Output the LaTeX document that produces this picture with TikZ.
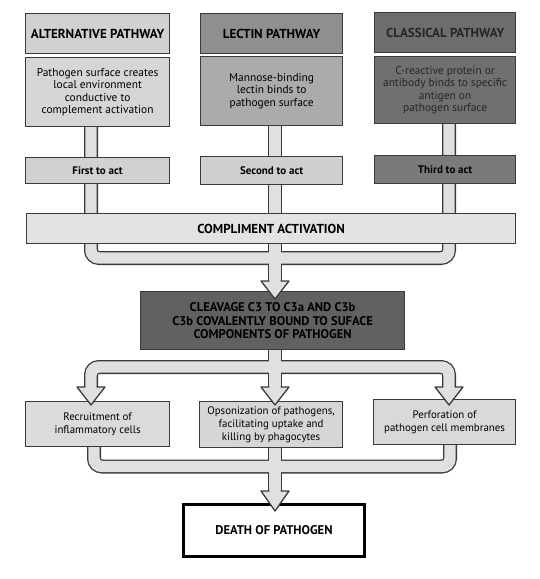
\documentclass[tikz,border=0pt]{standalone}
\usepackage{fontspec}
\setmainfont{PT Sans}
\usetikzlibrary{calc}
\begin{document}
\pgfdeclarelayer{bg}
\pgfsetlayers{bg,main}
\definecolor{pipefill}{HTML}{E0E0E0}
\definecolor{edge}{HTML}{3A3A3A}
\newcommand\blockhead[3]{%
  \fill[pipefill] ($(#1)+(-#3,0)$) -- ($(#1)+(#3,0)$) -- ($(#1)+(0,#2)$) -- cycle;
  \draw[headline] ($(#1)+(-5.7,0)$) -- ($(#1)+(-#3,0)$) -- ($(#1)+(0,#2)$) -- ($(#1)+(#3,0)$) -- ($(#1)+(5.7,0)$);}
\begin{tikzpicture}[x=1pt,y=-1pt,
  box/.style={draw=edge, line width=1.2pt, anchor=north west, inner sep=0pt, align=center, text=black},
  hdr/.style={box, font=\fontsize{13}{15}\selectfont\bfseries},
  desc/.style={box, font=\fontsize{11.4}{12.3}\selectfont},
  act/.style={box, font=\fontsize{11}{12}\selectfont\bfseries},
  pipeo/.style={line width=14pt, draw=edge, rounded corners=8pt},
  pipei/.style={line width=11.4pt, draw=pipefill, rounded corners=8pt},
  headline/.style={draw=edge, line width=1.3pt, line join=round},
]
\useasboundingbox (0,0) rectangle (539,579);
% top row
\node[hdr, fill=black!18, minimum width=144pt, minimum height=40pt] (altH) at (25,13) {ALTERNATIVE PATHWAY};
\node[desc, fill=black!16, minimum width=144pt, minimum height=69pt] (altD) at (25,57) {Pathogen surface creates\\local environment\\conductive to\\complement activation};
\node[act, fill=black!18, minimum width=144pt, minimum height=26pt] (altF) at (25,157) {First to act};
\node[hdr, fill=black!44, minimum width=142pt, minimum height=40pt] (lecH) at (200,13) {LECTIN PATHWAY};
\node[desc, fill=black!33, minimum width=142pt, minimum height=69pt] (lecD) at (200,56) {Mannose-binding\\lectin binds to\\pathogen surface};
\node[act, fill=black!19, minimum width=142pt, minimum height=28pt] (lecF) at (200,156) {Second to act};
\node[hdr, fill=black!57, minimum width=141pt, minimum height=40pt, text=black!85] (claH) at (374,12) {CLASSICAL PATHWAY};
\node[desc, fill=black!56, minimum width=141pt, minimum height=67pt, text=black!85] (claD) at (374,56) {C-reactive protein or\\antibody binds to specific\\antigen on\\pathogen surface};
\node[act, fill=black!52, minimum width=141pt, minimum height=28pt] (claF) at (374,155) {Third to act};
% middle
\node[box, fill=black!11, minimum width=489pt, minimum height=30pt, font=\fontsize{13}{15}\selectfont\bfseries] (comp) at (26,213) {COMPLIMENT ACTIVATION};
\node[box, fill=black!62, minimum width=264pt, minimum height=58pt, font=\fontsize{12.6}{13.2}\selectfont\bfseries] (cleav) at (140,291) {CLEAVAGE C3 TO C3a AND C3b\\C3b COVALENTLY BOUND TO SUFACE\\COMPONENTS OF PATHOGEN};
% bottom row
\node[desc, fill=black!14, minimum width=144pt, minimum height=45pt, font=\fontsize{10.9}{13.5}\selectfont] (rec) at (25,401) {Recruitment of\\inflammatory cells};
\node[desc, fill=black!16, minimum width=143pt, minimum height=46pt, font=\fontsize{10.9}{13.2}\selectfont] (ops) at (199,401) {Opsonization of pathogens,\\facilitating uptake and\\killing by phagocytes};
\node[desc, fill=black!15, minimum width=142pt, minimum height=45pt, font=\fontsize{10.9}{13.5}\selectfont] (perf) at (373,399) {Perforation of\\pathogen cell membranes};
\node[draw=black, line width=3pt, fill=white, anchor=north west, minimum width=181pt, minimum height=52pt, font=\fontsize{12.6}{14}\selectfont\bfseries] (death) at (182,503) {DEATH OF PATHOGEN};
% pipe joints
\coordinate (tl) at (91,258);
\coordinate (tr) at (449,258);
\coordinate (tm) at (275,258);
\coordinate (ml) at (91,367);
\coordinate (mr) at (449,367);
\coordinate (mm) at (275,367);
\coordinate (bl) at (94,466.5);
\coordinate (br) at (450,466.5);
\coordinate (bm) at (275,466.5);
\coordinate (a1) at (275,281);
\coordinate (a2l) at (91,387);
\coordinate (a2m) at (275,387);
\coordinate (a2r) at (449,387);
\coordinate (a3) at (275,491);
\begin{pgfonlayer}{bg}
\foreach \s in {pipeo,pipei}{
  \draw[\s] (altD.south -| tl) -- (tl) -- (tr) -- (claD.south -| tr);
  \draw[\s] (lecD.south -| tm) -- (a1);
  \draw[\s] (cleav.south -| mm) -- (mm);
  \draw[\s] (a2l) -- (ml) -- (mr) -- (a2r);
  \draw[\s] (mm) -- (a2m);
  \draw[\s] (rec.south -| bl) -- (bl) -- (br) -- (perf.south -| br);
  \draw[\s] (ops.south -| bm) -- (a3);
}
\end{pgfonlayer}
% arrow heads
\blockhead{a1}{18}{14}
\blockhead{a2l}{18}{14}
\blockhead{a2m}{18}{14}
\blockhead{a2r}{18}{14}
\blockhead{a3}{20}{14}
\end{tikzpicture}
\end{document}
